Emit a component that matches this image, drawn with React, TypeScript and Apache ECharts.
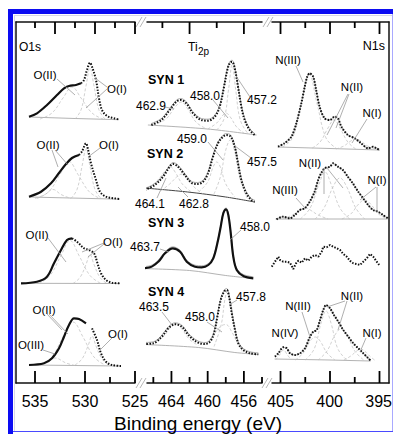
import React, { useEffect, useRef } from "react";
import * as echarts from "echarts";

type Pt = [number, number];

const FONT = '"Liberation Sans", Arial, Helvetica, sans-serif';

// ---------- axes (binding energy, eV) ----------
const O1S_RANGE = [525, 536.9];
const TI_RANGE = [454, 466.7];
const N1S_RANGE = [394.04, 405.86];

const O1S_TICKS = [535, 530, 525];
const O1S_MINOR = [532.5, 527.5];
const O1S_TOP_TICKS = [533, 529, 525];
const O1S_TOP_MINOR = [535, 531, 527];
const TI_TICKS = [464, 460, 456];
const TI_MINOR = [466, 462, 458, 454];
const TI_TOP_TICKS = [462, 456];
const TI_TOP_MINOR = [465, 459];
const N1S_TICKS = [405, 400, 395];
const N1S_MINOR = [402.5, 397.5];
const N1S_TOP_TICKS = [405, 400, 395];
const N1S_TOP_MINOR = [402.5, 397.5];

// ---------- O1s spectra [eV, intensity] ----------
const O1S_OFFSETS = [263, 183.5, 98.5, 17];
const O1S_SYN1: Pt[] = [[535.6, 3.3], [534.8, 6.7], [533.8, 15], [532.8, 25], [532.1, 31.7], [531.6, 34], [530.9, 35], [530.4, 36.7], [530.1, 40], [529.8, 50], [529.5, 57.3], [529.3, 53.3], [528.9, 40], [528.6, 21.7], [528.3, 10], [527.8, 4], [527.1, 1.7], [526.6, 0.7]];
const O1S_SYN2: Pt[] = [[535.6, 2.8], [534.4, 7.8], [533.4, 16.2], [532.6, 26.5], [531.9, 35.5], [531.3, 41.5], [530.6, 44.5], [530.3, 48], [529.9, 56.2], [529.7, 50], [529.4, 36.2], [528.9, 19.5], [528.5, 7.8], [527.9, 2.8], [527.1, 1.2], [526.5, 0.5]];
const O1S_SYN3: Pt[] = [[536.4, 1.2], [534.8, 2.8], [533.8, 7.8], [533.1, 21.2], [532.4, 34.5], [531.8, 44.5], [531.3, 46.2], [530.8, 42.8], [530.1, 36.2], [529.6, 34.5], [529.1, 31.2], [528.8, 22.8], [528.4, 11.2], [527.9, 4.5], [527.3, 1.8], [526.5, 1.2]];
const O1S_SYN4: Pt[] = [[535.6, 1], [534.1, 2.7], [533.3, 7.7], [532.6, 17.7], [532.1, 29.3], [531.6, 41], [531.1, 47.7], [530.6, 47], [529.9, 42.7], [529.3, 37.7], [528.8, 26], [528.4, 12.7], [527.9, 4.3], [527.3, 1], [526.4, 0]];
const O1S_SOLID_FROM = [530.4, 530.6, 531.3, 529.6];

const O1S_COMP1: Pt[][] = [
  [[535.6, 3], [531, 1.5], [526.6, 0.3]],
  [[534.5, 1], [533.3, 7], [532.2, 22], [531.3, 33], [530.4, 22], [529.3, 7], [528.2, 1]],
  [[531.0, 1], [530.4, 10], [529.9, 34], [529.5, 52], [529.1, 34], [528.6, 10], [528.0, 1]],
];
const O1S_COMP2: Pt[][] = [
  [[535.6, 2.5], [526.5, 0.3]],
  [[535, 1], [534, 5], [533.2, 10], [532.4, 5], [531.4, 1]],
  [[534.8, 1], [533.6, 8], [532.5, 25], [531.6, 38], [530.7, 25], [529.6, 8], [528.5, 1]],
  [[531.4, 1], [530.8, 10], [530.3, 33], [529.9, 50], [529.5, 33], [529.0, 10], [528.4, 1]],
];
const O1S_COMP3: Pt[][] = [
  [[536.4, 1.2], [526.5, 1]],
  [[534.6, 1], [533.5, 9], [532.4, 29], [531.5, 44], [530.6, 29], [529.5, 9], [528.4, 1]],
  [[531.2, 1], [530.5, 7], [529.9, 20], [529.5, 30], [529.1, 20], [528.5, 7], [527.8, 1]],
];
const O1S_COMP4: Pt[][] = [
  [[535.6, 1], [526.4, 0]],
  [[535, 0.5], [534.1, 3], [533.0, 8], [531.9, 3], [531, 0.5]],
  [[534.4, 1], [533.3, 9], [532.2, 29], [531.2, 44], [530.2, 29], [529.1, 9], [528.0, 1]],
  [[531.0, 1], [530.3, 7], [529.7, 20], [529.3, 30], [528.9, 20], [528.3, 7], [527.6, 1]],
];

// ---------- Ti2p spectra ----------
const TI_OFFSETS = [248, 181, 104.5, 28.5];
const TI_SYN1: Pt[] = [[466.22, 10], [465.11, 15], [464.19, 25], [463.46, 33.3], [462.97, 35], [462.36, 31.7], [461.62, 21.7], [460.7, 15], [459.96, 14.3], [459.22, 18.3], [458.67, 28.3], [458.19, 48.3], [457.83, 65], [457.57, 71.7], [457.31, 73.3], [457.01, 66.7], [456.65, 48.3], [456.28, 28.3], [455.91, 15], [455.36, 5], [454.81, 0]];
const TI_SYN2: Pt[] = [[466.95, 12], [465.84, 17], [464.93, 25.3], [464.19, 35.3], [463.82, 38], [463.27, 35.3], [462.53, 27], [461.8, 19.3], [461.14, 18], [460.51, 20.3], [459.96, 28.7], [459.41, 45.3], [458.86, 58.7], [458.3, 65.3], [457.94, 67], [457.45, 65.3], [457.01, 55.3], [456.65, 38.7], [456.28, 22], [455.73, 8.7], [455.18, 2], [454.81, 0.3]];
const TI_SYN3: Pt[] = [[467.65, 10.2], [466.36, 11.2], [465.45, 16.8], [464.71, 25.2], [463.86, 30.2], [463.05, 26.8], [462.31, 16.8], [461.4, 11.8], [460.66, 11.2], [459.93, 13.5], [459.38, 20.2], [458.93, 35.2], [458.56, 51.8], [458.27, 65.2], [457.97, 69.2], [457.72, 63.5], [457.45, 45.2], [457.17, 21.8], [456.79, 8.5], [456.06, 2.5], [454.96, 0.2]];
const TI_SYN4: Pt[] = [[467.1, 10.5], [466.0, 11.2], [465.07, 17.8], [464.34, 26.2], [463.6, 30.2], [462.86, 27.8], [461.95, 17.8], [461.03, 11.8], [460.29, 10.5], [459.74, 12.8], [459.3, 21.2], [458.93, 37.8], [458.56, 54.5], [458.19, 62.8], [457.9, 64.5], [457.64, 57.8], [457.34, 41.2], [456.98, 24.5], [456.62, 11.2], [456.06, 4.5], [455.32, 1.2], [454.41, 0.2]];
const TI_SOLID = [false, false, true, false];

const TI_COMP1: Pt[][] = [
  [[466.6, 10], [460, 6], [454.6, 0]],
  [[459.0, 5], [458.2, 16], [457.7, 45], [457.3, 70], [456.9, 45], [456.4, 15], [455.6, 2]],
  [[460.0, 6], [459.0, 12], [458.3, 20], [458.0, 22], [457.5, 18], [456.8, 8], [456.0, 2]],
  [[466.0, 10], [464.6, 16], [463.6, 28], [462.9, 33], [462.2, 26], [461.3, 13], [460.3, 7]],
];
const TI_COMP2: Pt[][] = [
  [[467, 14], [462.2, 10], [458, 5], [454.8, 0]],
  [[459.3, 8], [458.6, 25], [458.0, 52], [457.5, 62], [457.0, 50], [456.4, 22], [455.6, 3]],
  [[461.0, 10], [460.0, 20], [459.4, 35], [459.0, 40], [458.6, 35], [458.0, 18], [457.0, 5]],
  [[466.5, 14], [465.5, 22], [464.6, 32], [464.1, 35], [463.6, 30], [462.8, 18], [461.8, 10]],
  [[465.2, 11], [464.2, 18], [463.3, 26], [462.8, 28], [462.3, 24], [461.5, 15], [460.5, 8]],
];
const TI_COMP3: Pt[][] = [
  [[467.6, 10], [462, 8], [458, 3], [455, 0]],
];
const TI_COMP4: Pt[][] = [
  [[467, 10], [461, 7], [457, 2], [454.4, 0]],
  [[459.3, 8], [458.5, 30], [458.1, 55], [457.8, 64], [457.4, 50], [456.9, 20], [456.2, 3]],
  [[460.2, 10], [459.3, 20], [458.6, 28], [458.0, 30], [457.3, 22], [456.6, 10], [455.8, 2]],
  [[466.5, 11], [465.0, 17], [464.1, 27], [463.5, 30], [462.9, 26], [462.0, 15], [461.0, 9]],
];

// ---------- N1s spectra ----------
const N1S_OFFSETS = [233, 163, 113, 22];
const N1S_SYN1: Pt[] = [[405.25, 3.3], [404.6, 6.7], [403.9, 13.3], [403.4, 26.7], [402.9, 46.7], [402.55, 63.3], [402.3, 73.3], [402.05, 76.7], [401.7, 73.3], [401.4, 60], [401.05, 43.3], [400.55, 31.7], [400.0, 30], [399.55, 33.3], [399.2, 31.7], [398.85, 23.3], [398.2, 15], [397.5, 11.7], [396.85, 6.7], [396.15, 1.7], [395.65, 3.3], [395.3, 1.7], [395.0, 0]];
const N1S_SYN2: Pt[] = [[405.4, 0.7], [404.75, 3.3], [404.05, 1.7], [403.55, 5], [403.05, 10], [402.55, 11.7], [402.05, 18.3], [401.55, 28.3], [401.2, 40], [400.9, 46.7], [400.55, 51.7], [400.0, 53.3], [399.7, 56.7], [399.2, 53.3], [398.7, 50], [398.2, 43.3], [397.7, 36.7], [397.15, 28.3], [396.65, 21.7], [396.15, 15], [395.65, 10], [395.15, 8.3], [394.65, 5], [394.15, 1.7]];
const N1S_SYN3: Pt[] = [[405.89, 3.3], [405.56, 8.3], [405.22, 13.3], [405.05, 10], [404.72, 8.3], [404.37, 8.3], [404.04, 7.3], [403.71, 1], [403.43, 6.7], [403.2, 9.3], [402.86, 7.3], [402.53, 11.7], [402.19, 9.3], [401.85, 13.3], [401.52, 15], [401.18, 13.3], [400.84, 18.3], [400.68, 23.3], [400.33, 22.7], [400.0, 25], [399.67, 23.3], [399.32, 21.7], [398.99, 20], [398.66, 16], [398.31, 13.3], [397.98, 9.3], [397.65, 6.7], [397.3, 6], [396.97, 5], [396.64, 8.3], [396.29, 11.7], [395.96, 16], [395.63, 13.3], [395.28, 8.3], [394.95, 4]];
const N1S_SYN4: Pt[] = [[405.56, 4.3], [405.22, 7.7], [404.72, 13.7], [404.37, 12.7], [404.04, 7.7], [403.54, 6], [403.03, 7.7], [402.53, 12.7], [402.02, 24.3], [401.69, 29.3], [401.34, 31], [401.01, 41], [400.68, 51], [400.4, 56], [400.0, 52.7], [399.6, 46], [399.16, 39.3], [398.66, 31], [398.15, 24.3], [397.65, 17.7], [397.14, 12.7], [396.64, 7.7], [396.13, 2.7], [395.89, 0.3]];

const N1S_COMP1: Pt[][] = [
  [[405.3, 3], [400, 1.5], [395, 0]],
  [[404.8, 3], [403.8, 12], [402.9, 46], [402.1, 76], [401.3, 46], [400.4, 12], [399.4, 2]],
  [[401.8, 2], [401.0, 8], [400.2, 22], [399.6, 30], [399.0, 22], [398.2, 8], [397.4, 1]],
  [[399.4, 1], [398.6, 4], [397.9, 9], [397.4, 11], [396.9, 9], [396.2, 4], [395.4, 1]],
];
const N1S_COMP2: Pt[][] = [
  [[405.5, 1], [400, 1], [394.2, 1]],
  [[404.8, 1], [403.8, 5], [403.0, 10], [402.5, 12], [402.0, 10], [401.2, 5], [400.2, 1]],
  [[403, 1], [402.0, 12], [401.1, 36], [400.5, 48], [399.9, 36], [399.0, 12], [398, 1]],
  [[401.5, 1], [400.6, 12], [399.7, 33], [399.0, 42], [398.3, 33], [397.4, 12], [396.5, 1]],
  [[398.8, 1], [397.9, 6], [397.1, 16], [396.5, 20], [395.9, 16], [395.1, 6], [394.2, 1]],
];
const N1S_COMP3: Pt[][] = [];
const N1S_COMP4: Pt[][] = [
  [[405.6, 2], [400, 1], [395.9, 0]],
  [[405.5, 1], [405.1, 6], [404.7, 11], [404.3, 6], [403.9, 1]],
  [[403.5, 1], [402.7, 8], [402.0, 20], [401.5, 24], [401.0, 20], [400.3, 8], [399.5, 1]],
  [[402.5, 1], [401.6, 12], [400.9, 38], [400.4, 50], [399.9, 38], [399.2, 12], [398.3, 1]],
  [[401.2, 1], [400.3, 10], [399.5, 26], [398.9, 32], [398.3, 26], [397.5, 10], [396.6, 1]],
  [[398.6, 1], [397.9, 5], [397.3, 10], [396.9, 12], [396.5, 10], [396.0, 5], [395.5, 1]],
];

// ---------- text ----------
const PEAK_LABELS = [
  { t: "462.9", x: 151, y: 106 }, { t: "458.0", x: 205, y: 96 }, { t: "457.2", x: 262, y: 100 },
  { t: "459.0", x: 192, y: 139 }, { t: "457.5", x: 262, y: 162 }, { t: "464.1", x: 150, y: 204 }, { t: "462.8", x: 194, y: 204 },
  { t: "463.7", x: 145, y: 247 }, { t: "458.0", x: 255, y: 227 },
  { t: "463.5", x: 154, y: 307 }, { t: "458.0", x: 200, y: 317 }, { t: "457.8", x: 251, y: 297 },
];
const SPECIES_LABELS = [
  { t: "O(II)", x: 45, y: 75 }, { t: "O(I)", x: 117, y: 89 },
  { t: "O(II)", x: 48, y: 145 }, { t: "O(I)", x: 109, y: 145 },
  { t: "O(II)", x: 37, y: 235 }, { t: "O(I)", x: 113, y: 242 },
  { t: "O(II)", x: 44, y: 310 }, { t: "O(III)", x: 31, y: 345 }, { t: "O(I)", x: 118, y: 334 },
  { t: "N(III)", x: 288, y: 60 }, { t: "N(II)", x: 352, y: 87 }, { t: "N(I)", x: 372, y: 113 },
  { t: "N(II)", x: 310, y: 163 }, { t: "N(III)", x: 285, y: 190 }, { t: "N(I)", x: 377, y: 180 },
  { t: "N(II)", x: 352, y: 296 }, { t: "N(III)", x: 298, y: 306 }, { t: "N(IV)", x: 285, y: 333 }, { t: "N(I)", x: 372, y: 333 },
];
const SYN_LABELS = [
  { t: "SYN 1", x: 148, y: 80 }, { t: "SYN 2", x: 147, y: 154 }, { t: "SYN 3", x: 148, y: 223 }, { t: "SYN 4", x: 148, y: 292 },
];
const LEADERS: number[][] = [
  [57, 79, 75, 95], [107, 87, 95, 78], [107, 89, 86, 108],
  [52, 150, 58, 167], [55, 150, 68, 165], [100, 148, 88, 157],
  [48, 238, 66, 262], [104, 243, 82, 252], [104, 244, 88, 257],
  [47, 314, 62, 330], [49, 314, 68, 334], [43, 350, 55, 354], [112, 338, 100, 350],
  [165, 107, 174, 109], [213, 100, 228, 118], [250, 97, 236, 76],
  [208, 142, 223, 160], [251, 158, 235, 146], [157, 198, 166, 178], [188, 197, 178, 187],
  [160, 249, 169, 252], [241, 230, 230, 240],
  [162, 312, 172, 325], [207, 322, 222, 332], [237, 300, 229, 305],
  [296, 66, 303, 82], [349, 94, 336, 128], [348, 94, 327, 135], [367, 119, 352, 143],
  [324, 168, 324, 194], [327, 168, 343, 188], [296, 198, 305, 208], [376, 187, 360, 200], [377, 187, 377, 212],
  [345, 301, 327, 307], [347, 301, 338, 330], [302, 312, 310, 337], [366, 338, 360, 352],
];

const BLACK = "#111";
const GREY = "#bdbdbd";

const TOP = 22;
const HEIGHT = 361;

function lift(pts: Pt[], off: number) {
  return pts.map(([x, y]) => [x, y + off]);
}

function line(p: number, data: any[], lineStyle: any, smooth: number | boolean = 0.35, z = 2) {
  return {
    type: "line", xAxisIndex: p, yAxisIndex: p, data, smooth, symbol: "none",
    clip: false, silent: true, animation: false, lineStyle, z,
  };
}

const dotted = { color: BLACK, width: 2, type: [1.5, 1.5], cap: "butt" };
const solid = { color: BLACK, width: 2.2 };
const compStyle = { color: GREY, width: 0.7, type: [3, 2] };
const bgStyle = { color: "#a0a0a0", width: 0.8 };

const PANELS = [
  { left: 16, width: 119, range: O1S_RANGE, maj: O1S_TICKS, min: O1S_MINOR, tmaj: O1S_TOP_TICKS, tmin: O1S_TOP_MINOR },
  { left: 147, width: 115, range: TI_RANGE, maj: TI_TICKS, min: TI_MINOR, tmaj: TI_TOP_TICKS, tmin: TI_TOP_MINOR },
  { left: 272, width: 117, range: N1S_RANGE, maj: N1S_TICKS, min: N1S_MINOR, tmaj: N1S_TOP_TICKS, tmin: N1S_TOP_MINOR },
];

// tick marks drawn through each panel's own scales, one short segment per tick
function tickSeries(p: number) {
  const P = PANELS[p];
  const out: any[] = [];
  const add = (vals: number[], y0: number, y1: number) =>
    vals.forEach((v) => {
      out.push({ ...line(p, [[v, y0], [v, y1]], { color: "#000", width: 1.8, cap: "butt" }, false, 50), zlevel: 0 });
    });
  add(P.maj, 0, 12);
  add(P.min, 0, 6);
  add(P.tmaj, HEIGHT, HEIGHT - 12);
  add(P.tmin, HEIGHT, HEIGHT - 6);
  return out;
}

function buildSeries() {
  const s: any[] = [];
  const o = [O1S_SYN1, O1S_SYN2, O1S_SYN3, O1S_SYN4];
  const oc = [O1S_COMP1, O1S_COMP2, O1S_COMP3, O1S_COMP4];
  o.forEach((d, k) => {
    const off = O1S_OFFSETS[k];
    oc[k].forEach((c, j) => s.push(line(0, lift(c, off), j === 0 ? bgStyle : compStyle, j === 0 ? false : 0.4, 1)));
    const split = O1S_SOLID_FROM[k];
    s.push(line(0, lift(d.filter((q) => q[0] >= split), off), solid));
    s.push(line(0, lift(d.filter((q) => q[0] <= split), off), dotted));
  });
  const t = [TI_SYN1, TI_SYN2, TI_SYN3, TI_SYN4];
  const tc = [TI_COMP1, TI_COMP2, TI_COMP3, TI_COMP4];
  t.forEach((d, k) => {
    const off = TI_OFFSETS[k];
    tc[k].forEach((c, j) =>
      s.push(line(1, lift(c, off), j === 0 ? (k === 1 ? { color: "#444", width: 1 } : bgStyle) : compStyle, j === 0 ? 0.3 : 0.4, 1))
    );
    s.push(line(1, lift(d, off + 1.5), { color: "#a0a0a0", width: 0.9 }, 0.35, 1));
    s.push(line(1, lift(d, off), TI_SOLID[k] ? solid : dotted));
  });
  const n = [N1S_SYN1, N1S_SYN2, N1S_SYN3, N1S_SYN4];
  const nc = [N1S_COMP1, N1S_COMP2, N1S_COMP3, N1S_COMP4];
  n.forEach((d, k) => {
    const off = N1S_OFFSETS[k];
    nc[k].forEach((c, j) => s.push(line(2, lift(c, off), j === 0 ? bgStyle : compStyle, j === 0 ? false : 0.4, 1)));
    if (k !== 2) s.push(line(2, lift(d, off), { color: "#a0a0a0", width: 0.9 }, 0.35, 1));
    s.push(line(2, lift(d, off), dotted, k === 2 ? false : 0.3));
  });
  PANELS.forEach((_, p) => s.push(...tickSeries(p)));
  return s;
}

function buildAxes() {
  const grid: any[] = [];
  const xAxis: any[] = [];
  const yAxis: any[] = [];
  const frameLine = { show: true, onZero: false, lineStyle: { color: BLACK, width: 1.5 } };
  PANELS.forEach((P, p) => {
    grid.push({ left: P.left, width: P.width, top: TOP, height: HEIGHT });
    xAxis.push({
      type: "value", gridIndex: p, position: "bottom", min: P.range[0], max: P.range[1], inverse: true,
      splitLine: { show: false }, axisTick: { show: false }, axisLabel: { show: false }, axisLine: frameLine,
    });
    const frame = p === 0 || p === 2;
    yAxis.push({
      type: "value", gridIndex: p, min: 0, max: HEIGHT, show: frame, position: p === 2 ? "right" : "left",
      splitLine: { show: false }, axisTick: { show: false }, axisLabel: { show: false },
      axisLine: { ...frameLine, show: frame },
    });
  });
  PANELS.forEach((P) => {
    const gi = grid.length;
    grid.push({ left: P.left, width: P.width, top: TOP, height: HEIGHT });
    xAxis.push({
      type: "value", gridIndex: gi, position: "top", min: P.range[0], max: P.range[1], inverse: true,
      splitLine: { show: false }, axisTick: { show: false }, axisLabel: { show: false }, axisLine: frameLine,
    });
    yAxis.push({ type: "value", gridIndex: gi, show: false, min: 0, max: 1 });
  });
  PANELS.forEach((P) => {
    const scale = P.width / (P.range[1] - P.range[0]);
    const v = [...P.maj].sort((a, b) => a - b);
    const lo = v[0];
    const hi = v[v.length - 1];
    const gi = grid.length;
    grid.push({ left: P.left + (P.range[1] - hi) * scale, width: (hi - lo) * scale, top: TOP, height: HEIGHT });
    xAxis.push({
      type: "value", gridIndex: gi, position: "bottom", min: lo, max: hi, interval: v[1] - v[0], inverse: true,
      splitLine: { show: false }, axisLine: { show: false, onZero: false }, axisTick: { show: false },
      axisLabel: { show: true, color: "#000", fontSize: 16, fontFamily: FONT, margin: 10, showMinLabel: true, showMaxLabel: true, formatter: (x: number) => String(x) },
    });
    yAxis.push({ type: "value", gridIndex: gi, show: false, min: 0, max: 1 });
  });
  return { grid, xAxis, yAxis };
}

function txt(t: string, x: number, y: number, size: number, opt: any = {}) {
  const align = opt.align || "center";
  return {
    type: "text", x, y, silent: true, z: 20,
    style: {
      text: t, fill: "#000", fontSize: size, fontFamily: FONT, fontWeight: opt.bold ? "bold" : "normal",
      align, textAlign: align, verticalAlign: "middle", textVerticalAlign: "middle",
    },
  };
}

function seg(x1: number, y1: number, x2: number, y2: number, stroke: string, w: number) {
  return { type: "line", silent: true, z: 15, shape: { x1, y1, x2, y2 }, style: { stroke, lineWidth: w } };
}

function buildGraphic() {
  const g: any[] = [];
  g.push({ type: "rect", silent: true, z: 30, shape: { x: 8, y: 9, width: 385, height: 5 }, style: { fill: "#0c0cf2" } });
  g.push({ type: "rect", silent: true, z: 30, shape: { x: 8, y: 9, width: 5, height: 425 }, style: { fill: "#0c0cf2" } });
  g.push(seg(392.5, 9, 392.5, 432, "#a9a9ff", 1));
  g.push(seg(8, 431.5, 393, 431.5, "#4a4aff", 1));
  g.push(seg(14.5, 15, 14.5, 431, "#d8d8e8", 1));
  g.push(seg(14, 15.5, 392, 15.5, "#d8d8e8", 1));
  [[136, 27], [263, 27], [136, 388], [262, 388]].forEach(([x, y]) => {
    g.push(seg(x, y, x + 6, y - 10, "#b0b0b0", 0.9));
    g.push(seg(x + 4, y, x + 10, y - 10, "#b0b0b0", 0.9));
  });
  g.push(txt("O1s", 19, 47, 12, { align: "left" }));
  g.push(txt("Ti", 188, 47, 12, { align: "left" }));
  g.push(txt("2p", 198, 51, 10, { align: "left" }));
  g.push(txt("N1s", 385, 46, 12.5, { align: "right" }));
  SYN_LABELS.forEach((l) => g.push(txt(l.t, l.x, l.y, 12.5, { bold: true, align: "left" })));
  PEAK_LABELS.forEach((l) => g.push(txt(l.t, l.x, l.y, 12)));
  SPECIES_LABELS.forEach((l) => g.push(txt(l.t, l.x, l.y, 11.5)));
  LEADERS.forEach(([a, b, c, d]) => g.push(seg(a, b, c, d, "#9a9a9a", 0.8)));
  g.push(txt("Binding energy (eV)", 198, 423, 19));
  return g;
}

function buildOption() {
  const { grid, xAxis, yAxis } = buildAxes();
  return {
    animation: false,
    backgroundColor: "#fff",
    grid,
    xAxis,
    yAxis,
    series: buildSeries(),
    graphic: buildGraphic(),
  };
}

export default function App() {
  const ref = useRef<HTMLDivElement>(null);
  useEffect(() => {
    const chart = echarts.init(ref.current!, null, { renderer: "svg" });
    chart.setOption(buildOption() as any);
    return () => chart.dispose();
  }, []);
  return (
    <div
      ref={ref}
      style={{ position: "fixed", left: 0, top: 0, width: 395, height: 434, background: "#fff" }}
    />
  );
}
